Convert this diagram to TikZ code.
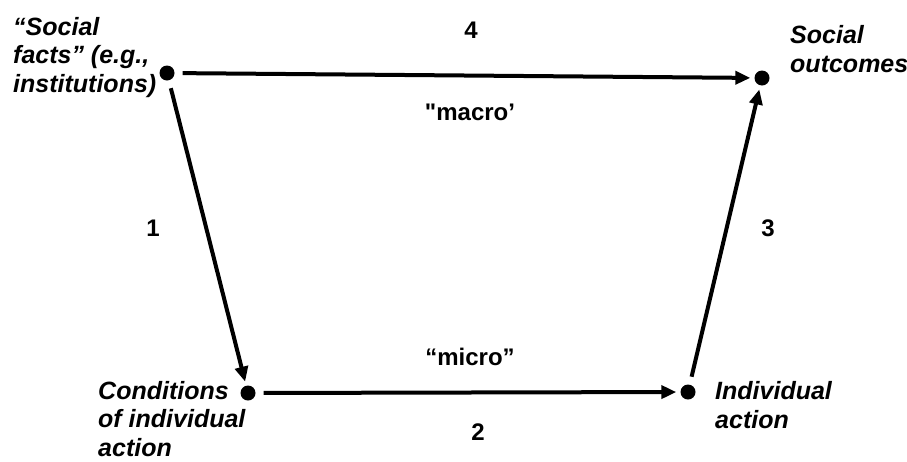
\documentclass[tikz,border=0pt]{standalone}
\usepackage{fontspec}
\setmainfont{Liberation Sans}
\usetikzlibrary{arrows.meta}
\begin{document}
\begin{tikzpicture}[x=1pt,y=-1pt,
  lab/.style={font=\fontsize{25}{28.5}\selectfont\bfseries\itshape, align=left, inner sep=0pt},
  num/.style={font=\fontsize{24}{28}\selectfont\bfseries, inner sep=0pt},
  dot/.style={circle, fill=black, inner sep=0pt, minimum size=15pt},
  arr/.style={line width=4pt, -{Triangle[length=15pt,width=13pt]}, shorten <=8pt, shorten >=4pt}]
\useasboundingbox[fill=white] (0,0) rectangle (907,461);
\node[dot] (sf) at (167,73) {};
\node[dot] (so) at (762,78) {};
\node[dot] (ci) at (248,393) {};
\node[dot] (ia) at (688,392) {};
\draw[arr] (sf) -- (so);
\draw[arr] (sf) -- (ci);
\draw[arr] (ci) -- (ia);
\draw[arr] (ia) -- (so);
\node[lab, anchor=base west] (t1) at (13,92) {“Social\\facts” (e.g.,\\institutions)};
\node[lab, anchor=base west] (t2) at (790,72) {Social\\outcomes};
\node[lab, anchor=base west] (t3) at (98,456) {Conditions\\of individual\\action};
\node[lab, anchor=base west] (t4) at (715,428) {Individual\\action};
\node[num] (n4) at (471,30) {4};
\node[num] (mac) at (470,112) {\textquotedbl macro’};
\node[num] (n1) at (153,228) {1};
\node[num] (n3) at (768,228) {3};
\node[num] (mic) at (470,357) {“micro”};
\node[num] (n2) at (478,432) {2};
\end{tikzpicture}
\end{document}
